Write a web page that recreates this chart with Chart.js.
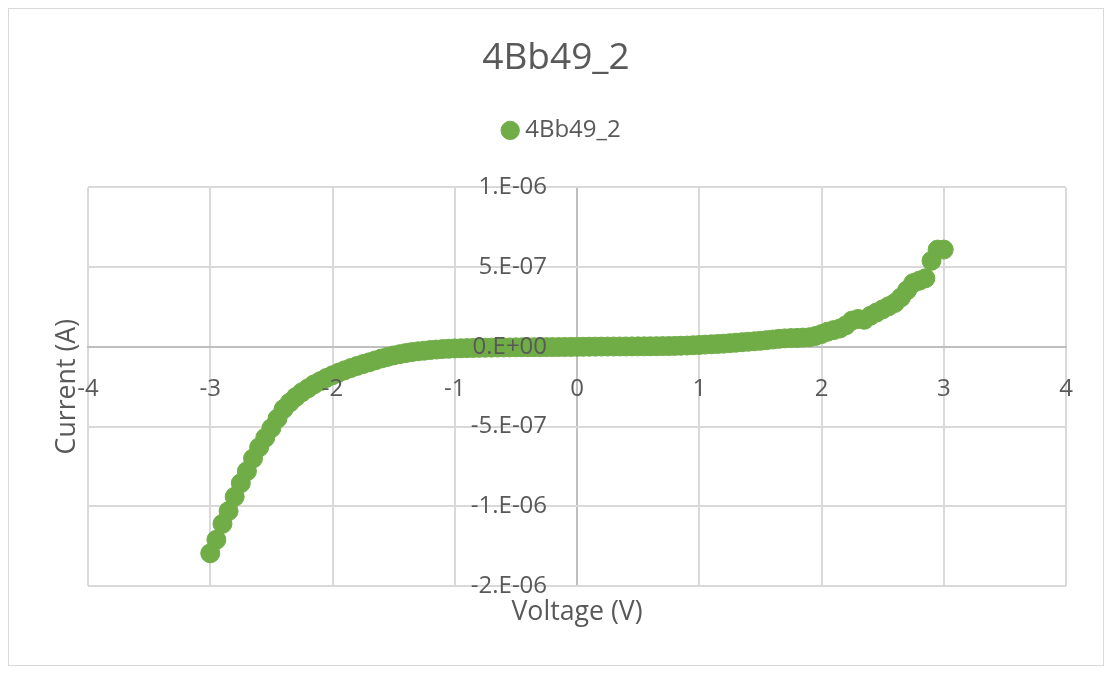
<!DOCTYPE html>
<html>
<head>
<meta charset="utf-8">
<script src="https://cdn.jsdelivr.net/npm/chart.js@4.4.1/dist/chart.umd.min.js"></script>
<style>
  html, body { margin: 0; padding: 0; background: #fff; }
  #wrap {
    position: absolute; left: 8px; top: 8px;
    width: 1094px; height: 656px;
    border: 1px solid #d9d9d9;
  }
</style>
</head>
<body>
<div id="wrap"><canvas id="ivChart"></canvas></div>
<script>
// Chart data (voltage in V, current in A)
const chartTitle = '4Bb49_2';
const seriesName = '4Bb49_2';
const xTitle = 'Voltage (V)';
const yTitle = 'Current (A)';

const voltage = [
  -3.00, -2.95, -2.90, -2.85, -2.80, -2.75, -2.70, -2.65, -2.60, -2.55,
  -2.50, -2.45, -2.40, -2.35, -2.30, -2.25, -2.20, -2.15, -2.10, -2.05,
  -2.00, -1.95, -1.90, -1.85, -1.80, -1.75, -1.70, -1.65, -1.60, -1.55,
  -1.50, -1.45, -1.40, -1.35, -1.30, -1.25, -1.20, -1.15, -1.10, -1.05,
  -1.00, -0.95, -0.90, -0.85, -0.80, -0.75, -0.70, -0.65, -0.60, -0.55,
  -0.50, -0.45, -0.40, -0.35, -0.30, -0.25, -0.20, -0.15, -0.10, -0.05,
   0.00,  0.05,  0.10,  0.15,  0.20,  0.25,  0.30,  0.35,  0.40,  0.45,
   0.50,  0.55,  0.60,  0.65,  0.70,  0.75,  0.80,  0.85,  0.90,  0.95,
   1.00,  1.05,  1.10,  1.15,  1.20,  1.25,  1.30,  1.35,  1.40,  1.45,
   1.50,  1.55,  1.60,  1.65,  1.70,  1.75,  1.80,  1.85,  1.90,  1.95,
   2.00,  2.05,  2.10,  2.15,  2.20,  2.25,  2.30,  2.35,  2.40,  2.45,
   2.50,  2.55,  2.60,  2.65,  2.70,  2.75,  2.80,  2.85,  2.90,  2.95,
   3.00
];

const current = [
  -12.95e-7, -12.1e-7, -11.1e-7, -10.3e-7, -9.4e-7, -8.55e-7, -7.8e-7, -7.0e-7, -6.3e-7, -5.7e-7,
  -5.1e-7, -4.5e-7, -3.9e-7, -3.5e-7, -3.15e-7, -2.85e-7, -2.6e-7, -2.35e-7, -2.15e-7, -1.95e-7,
  -1.78e-7, -1.62e-7, -1.47e-7, -1.33e-7, -1.2e-7, -1.08e-7, -0.97e-7, -0.85e-7, -0.73e-7, -0.63e-7,
  -0.54e-7, -0.46e-7, -0.39e-7, -0.33e-7, -0.28e-7, -0.24e-7, -0.2e-7, -0.17e-7, -0.14e-7, -0.12e-7,
  -0.1e-7, -0.09e-7, -0.08e-7, -0.07e-7, -0.06e-7, -0.055e-7, -0.05e-7, -0.045e-7, -0.04e-7, -0.035e-7,
  -0.03e-7, -0.028e-7, -0.025e-7, -0.022e-7, -0.02e-7, -0.017e-7, -0.015e-7, -0.012e-7, -0.01e-7, -0.005e-7,
  0, 0.005e-7, 0.01e-7, 0.012e-7, 0.015e-7, 0.018e-7, 0.02e-7, 0.023e-7, 0.025e-7, 0.028e-7,
  0.03e-7, 0.033e-7, 0.036e-7, 0.04e-7, 0.045e-7, 0.05e-7, 0.06e-7, 0.07e-7, 0.08e-7, 0.1e-7,
  0.12e-7, 0.14e-7, 0.16e-7, 0.18e-7, 0.2e-7, 0.23e-7, 0.26e-7, 0.29e-7, 0.32e-7, 0.35e-7,
  0.38e-7, 0.42e-7, 0.46e-7, 0.5e-7, 0.53e-7, 0.55e-7, 0.56e-7, 0.58e-7, 0.6e-7, 0.68e-7,
  0.8e-7, 0.95e-7, 1.05e-7, 1.15e-7, 1.35e-7, 1.65e-7, 1.75e-7, 1.7e-7, 1.95e-7, 2.15e-7,
  2.35e-7, 2.55e-7, 2.75e-7, 3.1e-7, 3.55e-7, 4.0e-7, 4.15e-7, 4.3e-7, 5.4e-7, 6.1e-7,
  6.1e-7
];

const xTickValues = [-4, -3, -2, -1, 0, 1, 2, 3, 4];
const xTickLabels = ['-4', '-3', '-2', '-1', '0', '1', '2', '3', '4'];
const yTickValues = [-1.5e-6, -1e-6, -5e-7, 0, 5e-7, 1e-6];
const yTickLabels = ['-2.E-06', '-1.E-06', '-5.E-07', '0.E+00', '5.E-07', '1.E-06'];

const textColor = '#595959';
const gridColor = '#d9d9d9';
const axisColor = '#bfbfbf';
const green = '#70ad47';
const fontFamily = '"Open Sans", "Noto Sans", sans-serif';

// Axis titles sit outside the plot area, like Excel does it
const axisTitles = {
  id: 'axisTitles',
  afterDraw(chart) {
    const { ctx, chartArea } = chart;
    ctx.save();
    ctx.font = '26.7px ' + fontFamily;
    ctx.fillStyle = textColor;
    ctx.textAlign = 'center';
    ctx.textBaseline = 'middle';
    ctx.fillText(xTitle, (chartArea.left + chartArea.right) / 2, chartArea.bottom + 26);
    ctx.translate(chartArea.left - 21, (chartArea.top + chartArea.bottom) / 2);
    ctx.rotate(-Math.PI / 2);
    ctx.fillText(yTitle, 0, 0);
    ctx.restore();
  }
};

// Extra room under the legend, and nudge it a little to the right
const legendSpacer = {
  id: 'legendSpacer',
  afterInit(chart) {
    const fit = chart.legend.fit;
    chart.legend.fit = function () {
      fit.call(this);
      this.height += 35;
    };
  },
  afterLayout(chart) {
    chart.legend.left += 8;
    chart.legend.right += 8;
  }
};

const points = voltage.map((v, i) => ({ x: v, y: current[i] }));

new Chart(document.getElementById('ivChart'), {
  type: 'scatter',
  data: {
    datasets: [{
      label: seriesName,
      data: points,
      pointRadius: 9.5,
      pointHoverRadius: 9.5,
      pointBackgroundColor: green,
      pointBorderColor: green,
      pointBorderWidth: 1,
      backgroundColor: green,
      borderColor: green
    }]
  },
  options: {
    responsive: true,
    maintainAspectRatio: false,
    animation: false,
    layout: { padding: { left: 37, right: 37, top: 0, bottom: 79 } },
    plugins: {
      title: {
        display: true,
        text: chartTitle,
        color: textColor,
        font: { family: fontFamily, size: 37, weight: 'normal' },
        padding: { top: 27, bottom: 28 }
      },
      legend: {
        position: 'top',
        labels: {
          usePointStyle: true,
          pointStyle: 'circle',
          boxWidth: 6,
          boxHeight: 13,
          color: textColor,
          font: { family: fontFamily, size: 24 }
        }
      },
      tooltip: { enabled: false }
    },
    scales: {
      x: {
        type: 'linear',
        position: { y: 0 },
        min: -4,
        max: 4,
        afterBuildTicks: s => { s.ticks = xTickValues.map(v => ({ value: v })); },
        ticks: {
          z: 1,
          padding: 28,
          maxRotation: 0,
          autoSkip: false,
          color: textColor,
          font: { family: fontFamily, size: 24 },
          callback: (value, index) => xTickLabels[index]
        },
        grid: {
          drawTicks: false,
          lineWidth: 2,
          color: c => (c.tick && c.tick.value === 0 ? axisColor : gridColor)
        },
        border: { display: true, color: axisColor, width: 2 }
      },
      y: {
        type: 'linear',
        position: { x: -0.245 },
        min: -1.5e-6,
        max: 1e-6,
        afterBuildTicks: s => { s.ticks = yTickValues.map(v => ({ value: v })); },
        ticks: {
          z: 1,
          autoSkip: false,
          color: textColor,
          font: { family: fontFamily, size: 24 },
          callback: (value, index) => yTickLabels[index]
        },
        grid: { drawTicks: false, lineWidth: 2, color: gridColor },
        border: { display: false }
      },
      // empty axis that only keeps room on the left for the axis title
      yPad: {
        type: 'linear',
        position: 'left',
        display: true,
        ticks: { display: false },
        grid: { display: false },
        border: { display: false },
        afterFit: s => { s.width = 42; }
      }
    }
  },
  plugins: [axisTitles, legendSpacer]
});
</script>
</body>
</html>
